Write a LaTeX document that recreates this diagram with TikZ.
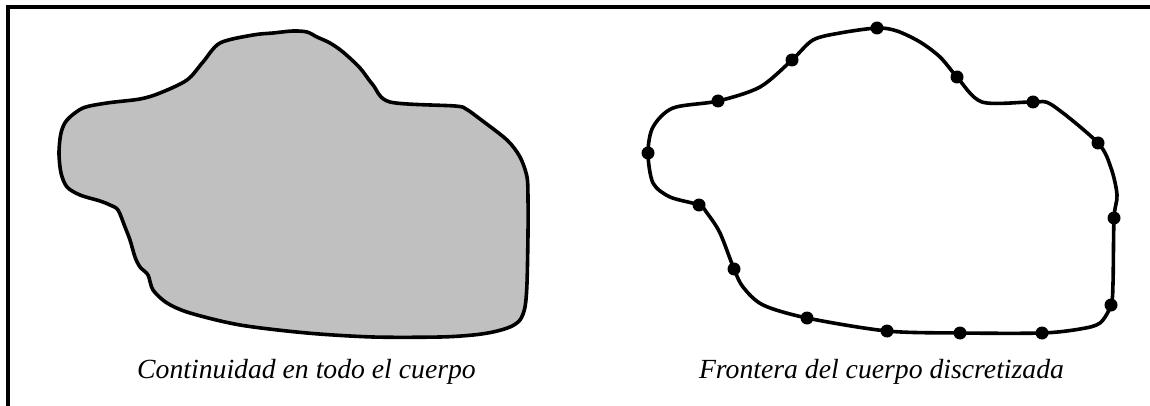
\documentclass[tikz,border=0pt]{standalone}
\usepackage{fontspec}
\setmainfont{Liberation Serif}
\begin{document}
\begin{tikzpicture}[x=1pt,y=-1pt,
  outline/.style={line width=3.6pt,line join=round},
  body/.style={outline,fill=bodygray},
  frameline/.style={line width=4pt,line join=miter},
  vertex/.style={fill=black},
  caption/.style={anchor=base,inner sep=0pt,font=\fontsize{27.7}{33}\selectfont\itshape}]
\definecolor{bodygray}{RGB}{192,192,192}
\useasboundingbox (0,0) rectangle (1150,406);
% frame
\coordinate (ftr) at (1150,7.5);
\coordinate (ftl) at (7.5,7.5);
\coordinate (fbl) at (7.5,406);
\draw[frameline] (ftr) -- (ftl) -- (fbl);
% left body
\draw[body] plot[smooth cycle,tension=0.5] coordinates {
(220,43) (253,35) (273,33) (293,31) (307,32) (317,37) (330,43) (343,52)
(360,68) (373,85) (390,102) (455,106) (466,109) (480,119) (507,140)
(520,157) (527,177) (528,200) (528,233) (527,283) (525,307) (520,320)
(510,327) (493,332) (473,335) (440,337) (373,337) (307,333) (240,325)
(190,313) (167,303) (153,290) (148,275) (140,267) (135,257) (130,240)
(125,227) (118,210) (110,205) (100,201) (80,195) (67,187) (61,173)
(59,153) (61,133) (67,120) (83,108) (107,103) (140,99) (160,93)
(187,80) (203,62)};
% right boundary
\draw[outline] plot[smooth cycle,tension=0.5] coordinates {
(877,28) (897,31) (920,42) (940,57) (957,77) (982,102) (1033,102)
(1052,105) (1098,143) (1111,168) (1117,195) (1114,218) (1113,283)
(1111,305) (1100,323) (1080,329) (1042,333) (960,333) (887,331)
(807,318) (763,305) (743,287) (734,269) (720,233) (707,213) (699,205)
(670,197) (653,183) (648,153) (653,127) (673,108) (718,101) (760,87)
(792,60) (813,40) (840,33)};
% discretisation points
\foreach \p in {(877,28),(957,77),(1033,102),(1098,143),(1114,218),
  (1111,305),(1042,333),(960,333),(887,331),(807,318),(734,269),
  (699,205),(648,153),(718,101),(792,60)}
  \fill[vertex] \p circle (6.5pt);
% captions
\node[caption] (capL) at (306.5,378) {Continuidad en todo el cuerpo};
\node[caption] (capR) at (881.5,378) {Frontera del cuerpo discretizada};
\end{tikzpicture}
\end{document}
